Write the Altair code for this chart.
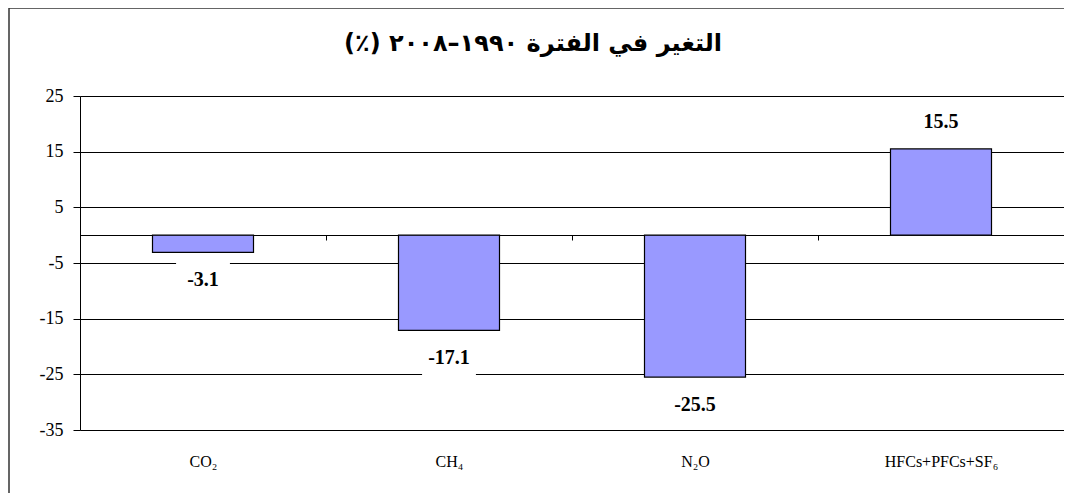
import altair as alt
import pandas as pd

categories = ["CO₂", "CH₄", "N₂O", "HFCs+PFCs+SF₆"]
values = [-3.1, -17.1, -25.5, 15.5]
labels = [f"{v:.1f}" for v in values]
y_ticks = [-35, -25, -15, -5, 5, 15, 25]
title_text = "\u202bالتغير في الفترة ١٩٩٠–٢٠٠٨ (٪)\u202c"

df = pd.DataFrame({"gas": categories, "value": values, "label": labels})

W, H = 984, 334
SERIF = "Liberation Serif, 'Times New Roman', Tinos, DejaVu Serif, serif"

x_enc = alt.X(
    "gas:N", sort=categories,
    scale=alt.Scale(paddingInner=0, paddingOuter=0),
    axis=alt.Axis(
        orient="bottom", offset=-195, title=None, labelAngle=0,
        tickBand="extent", tickSize=5, tickColor="black", tickWidth=1,
        domainColor="black", domainWidth=1, labelPadding=213,
        labelFont=SERIF, labelFontSize=16, labelColor="black", grid=False,
    ),
)
y_enc = alt.Y(
    "value:Q",
    scale=alt.Scale(domain=[-35, 25], nice=False, zero=False),
    axis=alt.Axis(
        values=y_ticks, title=None, grid=True, gridColor="black", gridOpacity=1,
        gridWidth=1, domainColor="black", tickColor="black", tickSize=7,
        labelPadding=10, labelExpr="toString(datum.value)",
        labelFont=SERIF, labelFontSize=18, labelColor="black",
    ),
)

base = alt.Chart(df)

frame = alt.Chart(alt.Data(values=[{}])).mark_rect(
    fill=None, stroke="#333333", strokeWidth=1.5, clip=False
).encode(
    x=alt.value(-71), x2=alt.value(W + 30),
    y=alt.value(-88), y2=alt.value(H + 120),
)

bars = base.mark_bar(
    width=101, color="#9999FF", stroke="black", strokeWidth=1.2
).encode(x=x_enc, y=y_enc)

box_shape = "M-1,-0.8H1V0.8H-1Z"
neg_box = base.transform_filter("datum.value < 0").mark_point(
    shape=box_shape, filled=True, color="white", opacity=1, size=2900,
    strokeWidth=0, yOffset=28
).encode(x=alt.X("gas:N", sort=categories), y="value:Q")
pos_box = base.transform_filter("datum.value >= 0").mark_point(
    shape=box_shape, filled=True, color="white", opacity=1, size=2900,
    strokeWidth=0, yOffset=-27
).encode(x=alt.X("gas:N", sort=categories), y="value:Q")

neg_txt = base.transform_filter("datum.value < 0").mark_text(
    dy=28, baseline="middle", font=SERIF, fontSize=20, fontWeight="bold", color="black"
).encode(x=alt.X("gas:N", sort=categories), y="value:Q", text="label:N")
pos_txt = base.transform_filter("datum.value >= 0").mark_text(
    dy=-27, baseline="middle", font=SERIF, fontSize=20, fontWeight="bold", color="black"
).encode(x=alt.X("gas:N", sort=categories), y="value:Q", text="label:N")

chart = alt.layer(frame, bars, neg_box, pos_box, neg_txt, pos_txt).properties(
    width=W, height=H,
    padding={"left": 72, "top": 88, "right": 0, "bottom": 63},
    autosize=alt.AutoSizeParams(type="none"),
    title=alt.TitleParams(
        title_text, font="DejaVu Sans", fontSize=24, fontWeight="bold",
        anchor="middle", dx=-39, offset=0, dy=73, baseline="bottom", color="black",
    ),
).configure_view(stroke=None).configure(background="white")

chart.save("out.html", embed_options={"renderer": "svg", "actions": False})
